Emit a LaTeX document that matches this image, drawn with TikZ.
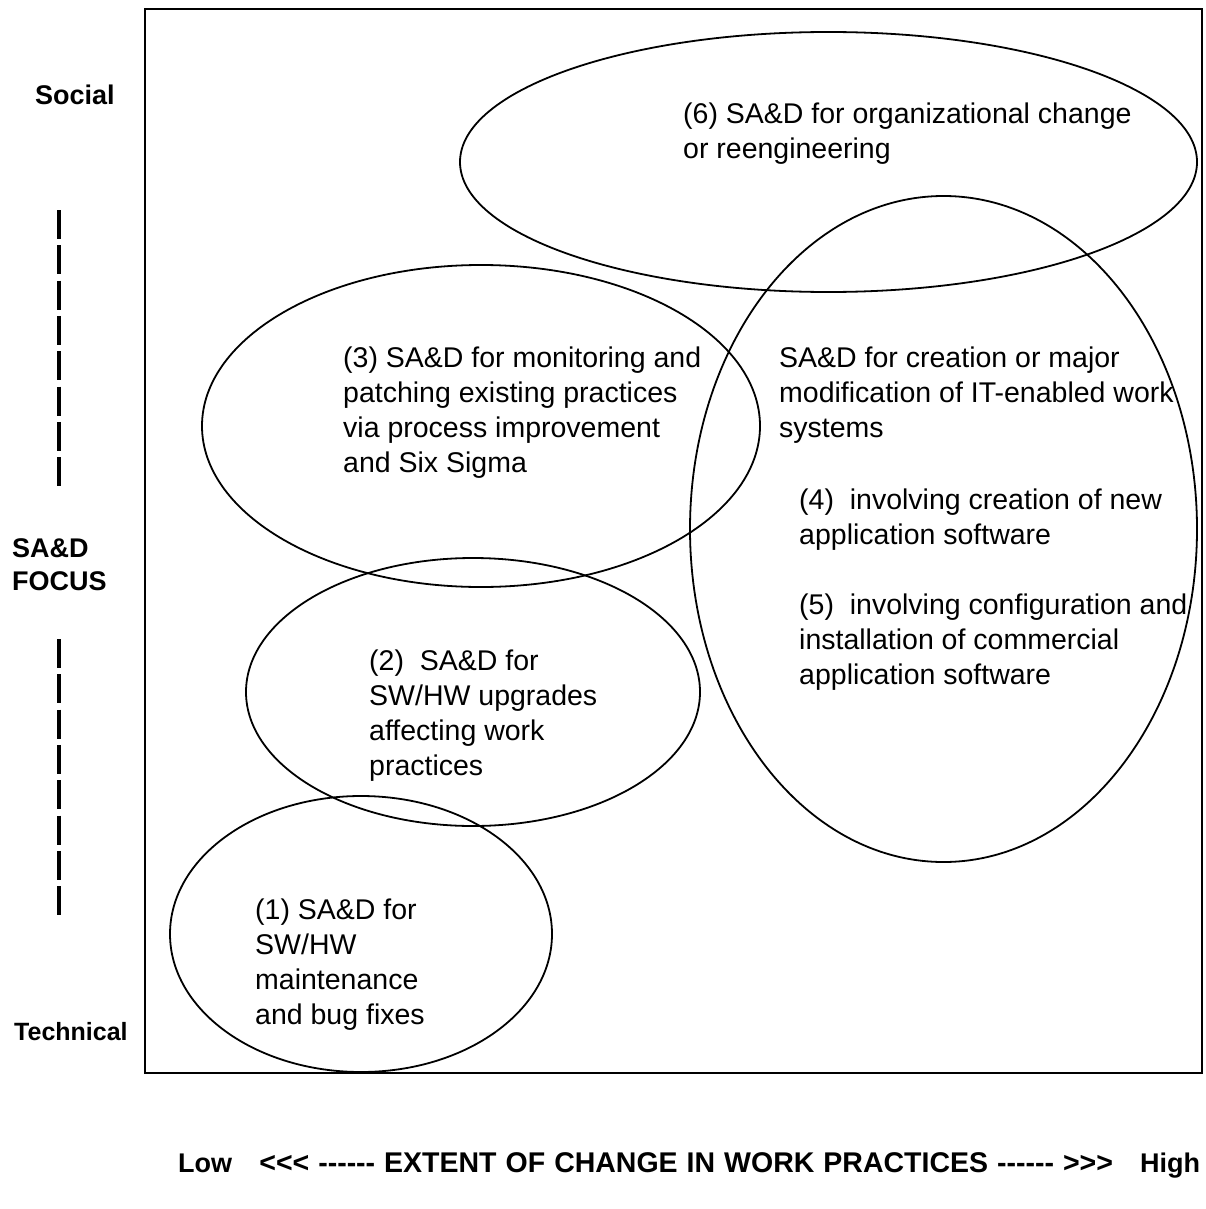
\documentclass[tikz,border=0pt]{standalone}
\usepackage{fontspec}
\setmainfont{Liberation Sans}[Ligatures=TeXOff]
\usepackage{tikz}

\tikzset{
    txt/.style={anchor=north west, inner sep=0pt, align=left, font=\fontsize{28.5}{35}\selectfont},
    axis/.style={inner sep=0pt, align=left, font=\fontsize{27}{33}\selectfont\bfseries},
    oval/.style={line width=1.8pt},
    bar/.style={line width=3.2pt, dash pattern=on 29pt off 6.3pt}
}

\begin{document}
\begin{tikzpicture}[x=1pt, y=-1pt]
    \useasboundingbox (0, 0) rectangle (1206, 1209);
    \draw [line width=2pt] (145, 9) rectangle (1202, 1073);
    % vertical axis
    \node [axis, anchor=west] (social) at (35, 95) {Social};
    \node [axis, anchor=west] (focus) at (12, 565) {SA\&D\\FOCUS};
    \node [axis, anchor=west, font=\fontsize{25}{30}\selectfont\bfseries] (tech) at (14, 1032) {Technical};
    \coordinate (up1) at (59, 210);
    \coordinate (up2) at (59, 486);
    \coordinate (lo1) at (59, 639);
    \coordinate (lo2) at (59, 915);
    \draw [bar] (up1) to (up2);
    \draw [bar] (lo1) to (lo2);
    % ovals
    \draw [oval] (828.5, 162) ellipse [x radius=368.5, y radius=130]; % (6)
    \draw [oval] (481, 426) ellipse [x radius=279, y radius=161]; % (3)
    \draw [oval] (943.5, 529) ellipse [x radius=253.5, y radius=333]; % (4)+(5)
    \draw [oval] (473, 692) ellipse [x radius=227, y radius=134]; % (2)
    \draw [oval] (361, 934) ellipse [x radius=191, y radius=138]; % (1)
    % labels
    \node [txt] (6) at (683, 103) {(6) SA\&D for organizational change\\or reengineering};
    \node [txt] (3) at (343, 347) {(3) SA\&D for monitoring and\\patching existing practices\\via process improvement\\and Six Sigma};
    \node [txt] (45) at (779, 347) {SA\&D for creation or major\\modification of IT-enabled work\\systems};
    \node [txt] (4) at (799, 489) {(4)\ \ involving creation of new\\application software};
    \node [txt] (5) at (799, 594) {(5)\ \ involving configuration and\\installation of commercial\\application software};
    \node [txt] (2) at (369, 650) {(2)\ \ SA\&D for\\SW/HW upgrades\\affecting work\\practices};
    \node [txt] (1) at (255, 899) {(1) SA\&D for\\SW/HW\\maintenance\\and bug fixes};
    % horizontal axis
    \node [axis, anchor=west, text width=1022pt] (extent) at (178, 1165) {Low\hfill{\fontsize{28.5}{33}\selectfont <<< ------ EXTENT OF CHANGE IN WORK PRACTICES ------ >>>}\hfill High};
\end{tikzpicture}
\end{document}
